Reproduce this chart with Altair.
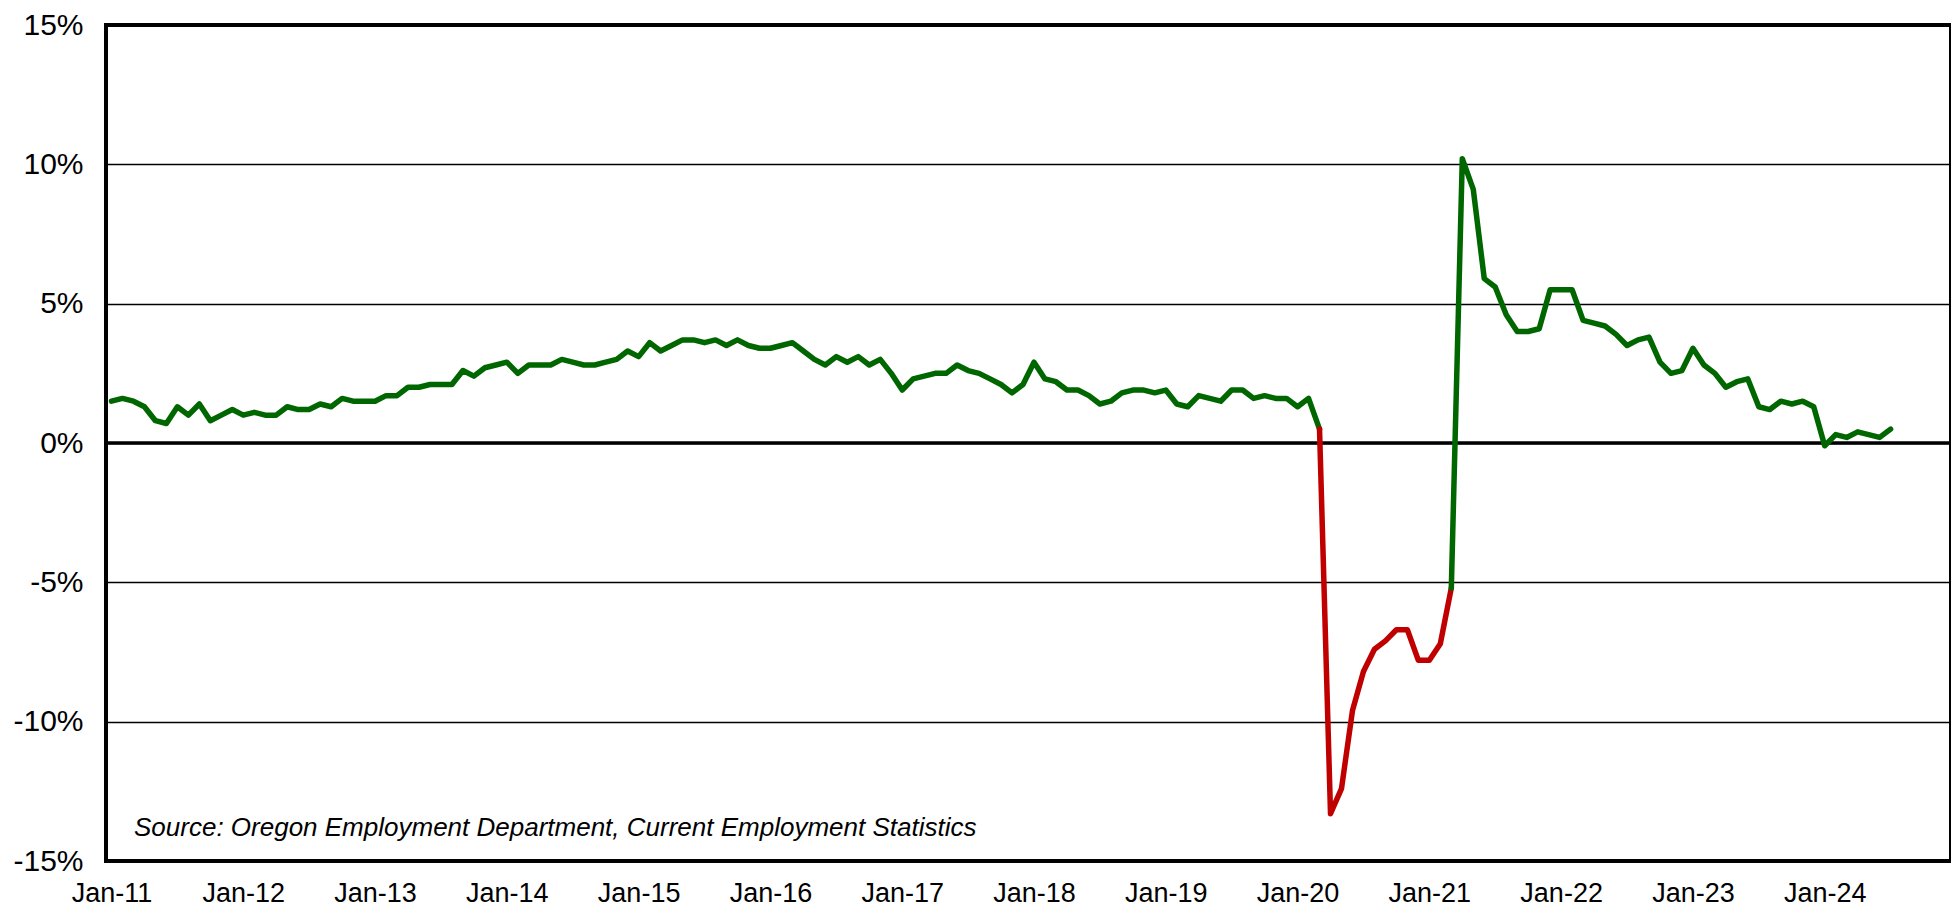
import altair as alt
import pandas as pd

# Oregon nonfarm employment, over-the-year change (%), monthly from Jan-2011
start_month = "2011-01"
growth = [
    1.5, 1.6, 1.5, 1.3, 0.8, 0.7, 1.3, 1.0, 1.4, 0.8, 1.0, 1.2,      # 2011
    1.0, 1.1, 1.0, 1.0, 1.3, 1.2, 1.2, 1.4, 1.3, 1.6, 1.5, 1.5,      # 2012
    1.5, 1.7, 1.7, 2.0, 2.0, 2.1, 2.1, 2.1, 2.6, 2.4, 2.7, 2.8,      # 2013
    2.9, 2.5, 2.8, 2.8, 2.8, 3.0, 2.9, 2.8, 2.8, 2.9, 3.0, 3.3,      # 2014
    3.1, 3.6, 3.3, 3.5, 3.7, 3.7, 3.6, 3.7, 3.5, 3.7, 3.5, 3.4,      # 2015
    3.4, 3.5, 3.6, 3.3, 3.0, 2.8, 3.1, 2.9, 3.1, 2.8, 3.0, 2.5,      # 2016
    1.9, 2.3, 2.4, 2.5, 2.5, 2.8, 2.6, 2.5, 2.3, 2.1, 1.8, 2.1,      # 2017
    2.9, 2.3, 2.2, 1.9, 1.9, 1.7, 1.4, 1.5, 1.8, 1.9, 1.9, 1.8,      # 2018
    1.9, 1.4, 1.3, 1.7, 1.6, 1.5, 1.9, 1.9, 1.6, 1.7, 1.6, 1.6,      # 2019
    1.3, 1.6, 0.5, -13.3, -12.4, -9.6, -8.2, -7.4, -7.1, -6.7, -6.7, -7.8,  # 2020
    -7.8, -7.2, -5.2, 10.2, 9.1, 5.9, 5.6, 4.6, 4.0, 4.0, 4.1, 5.5,  # 2021
    5.5, 5.5, 4.4, 4.3, 4.2, 3.9, 3.5, 3.7, 3.8, 2.9, 2.5, 2.6,      # 2022
    3.4, 2.8, 2.5, 2.0, 2.2, 2.3, 1.3, 1.2, 1.5, 1.4, 1.5, 1.3,      # 2023
    -0.1, 0.3, 0.2, 0.4, 0.3, 0.2, 0.5,                              # 2024
]
# red highlighted stretch (segments ending in these months)
decline_from = "Mar-20"
decline_to = "Mar-21"

tick_labels = ["Jan-11", "Jan-12", "Jan-13", "Jan-14", "Jan-15", "Jan-16", "Jan-17",
               "Jan-18", "Jan-19", "Jan-20", "Jan-21", "Jan-22", "Jan-23", "Jan-24"]
y_ticks = [-15, -10, -5, 0, 5, 10, 15]
n_categories = 168  # category axis runs Jan-11 .. Dec-24
source_text = "Source: Oregon Employment Department, Current Employment Statistics"

p0 = pd.Period(start_month, freq="M")
months = [(p0 + i).strftime("%b-%y") for i in range(len(growth))]
a = months.index(decline_from)
b = months.index(decline_to)
segments = [(0, a, "up"), (a, b, "down"), (b, len(growth) - 1, "up")]
rows = []
for k, (s, e, kind) in enumerate(segments):
    for i in range(s, e + 1):
        rows.append({"idx": i, "month": months[i], "value": growth[i], "seg": k, "kind": kind})
df = pd.DataFrame(rows)

label_expr = "[" + ",".join("'%s'" % t for t in tick_labels) + "][datum.value / 12]"

FONT = "Liberation Sans"

x_enc = alt.X(
    "idx:Q",
    scale=alt.Scale(domain=[-0.5, n_categories - 0.5], nice=False, zero=False),
    axis=alt.Axis(values=[12 * i for i in range(len(tick_labels))], labelExpr=label_expr,
                  title=None, grid=False, domain=False, ticks=False, tickSize=0,
                  labelPadding=19, labelFlush=False, labelAngle=0,
                  labelFont=FONT, labelFontSize=27, labelColor="black"),
)
y_scale = alt.Scale(domain=[-15, 15], nice=False)
y_enc = alt.Y(
    "value:Q",
    scale=y_scale,
    axis=alt.Axis(values=y_ticks, labelExpr="datum.value + '%'", title=None,
                  grid=True, gridColor="black", gridWidth=1.3, gridOpacity=1,
                  domain=False, ticks=False, tickSize=0, labelPadding=23,
                  labelFlush=False, labelFont=FONT, labelFontSize=30, labelColor="black"),
)

line = alt.Chart(df).mark_line(strokeWidth=5.5, strokeJoin="round", strokeCap="round").encode(
    x=x_enc,
    y=y_enc,
    detail="seg:N",
    order="idx:Q",
    color=alt.Color("kind:N", scale=alt.Scale(domain=["up", "down"], range=["#006600", "#C00000"]),
                    legend=None),
)

zero = alt.Chart(pd.DataFrame({"v": [0]})).mark_rule(color="black", strokeWidth=3.5).encode(
    y=alt.Y("v:Q", scale=y_scale)
)

source = alt.Chart(pd.DataFrame({"t": [source_text]})).mark_text(
    align="left", baseline="middle", font=FONT, fontSize=26, fontStyle="italic", color="black"
).encode(text="t:N", x=alt.value(28), y=alt.value(803))

chart = alt.layer(zero, line, source).properties(
    width=1845, height=836,
    autosize=alt.AutoSizeParams(type="none"),
    padding={"left": 98, "top": 17, "right": 0, "bottom": 47},
).configure_view(stroke="black", strokeWidth=4, strokeOpacity=1)

chart.save("out.html", embed_options={"renderer": "svg", "actions": False})
